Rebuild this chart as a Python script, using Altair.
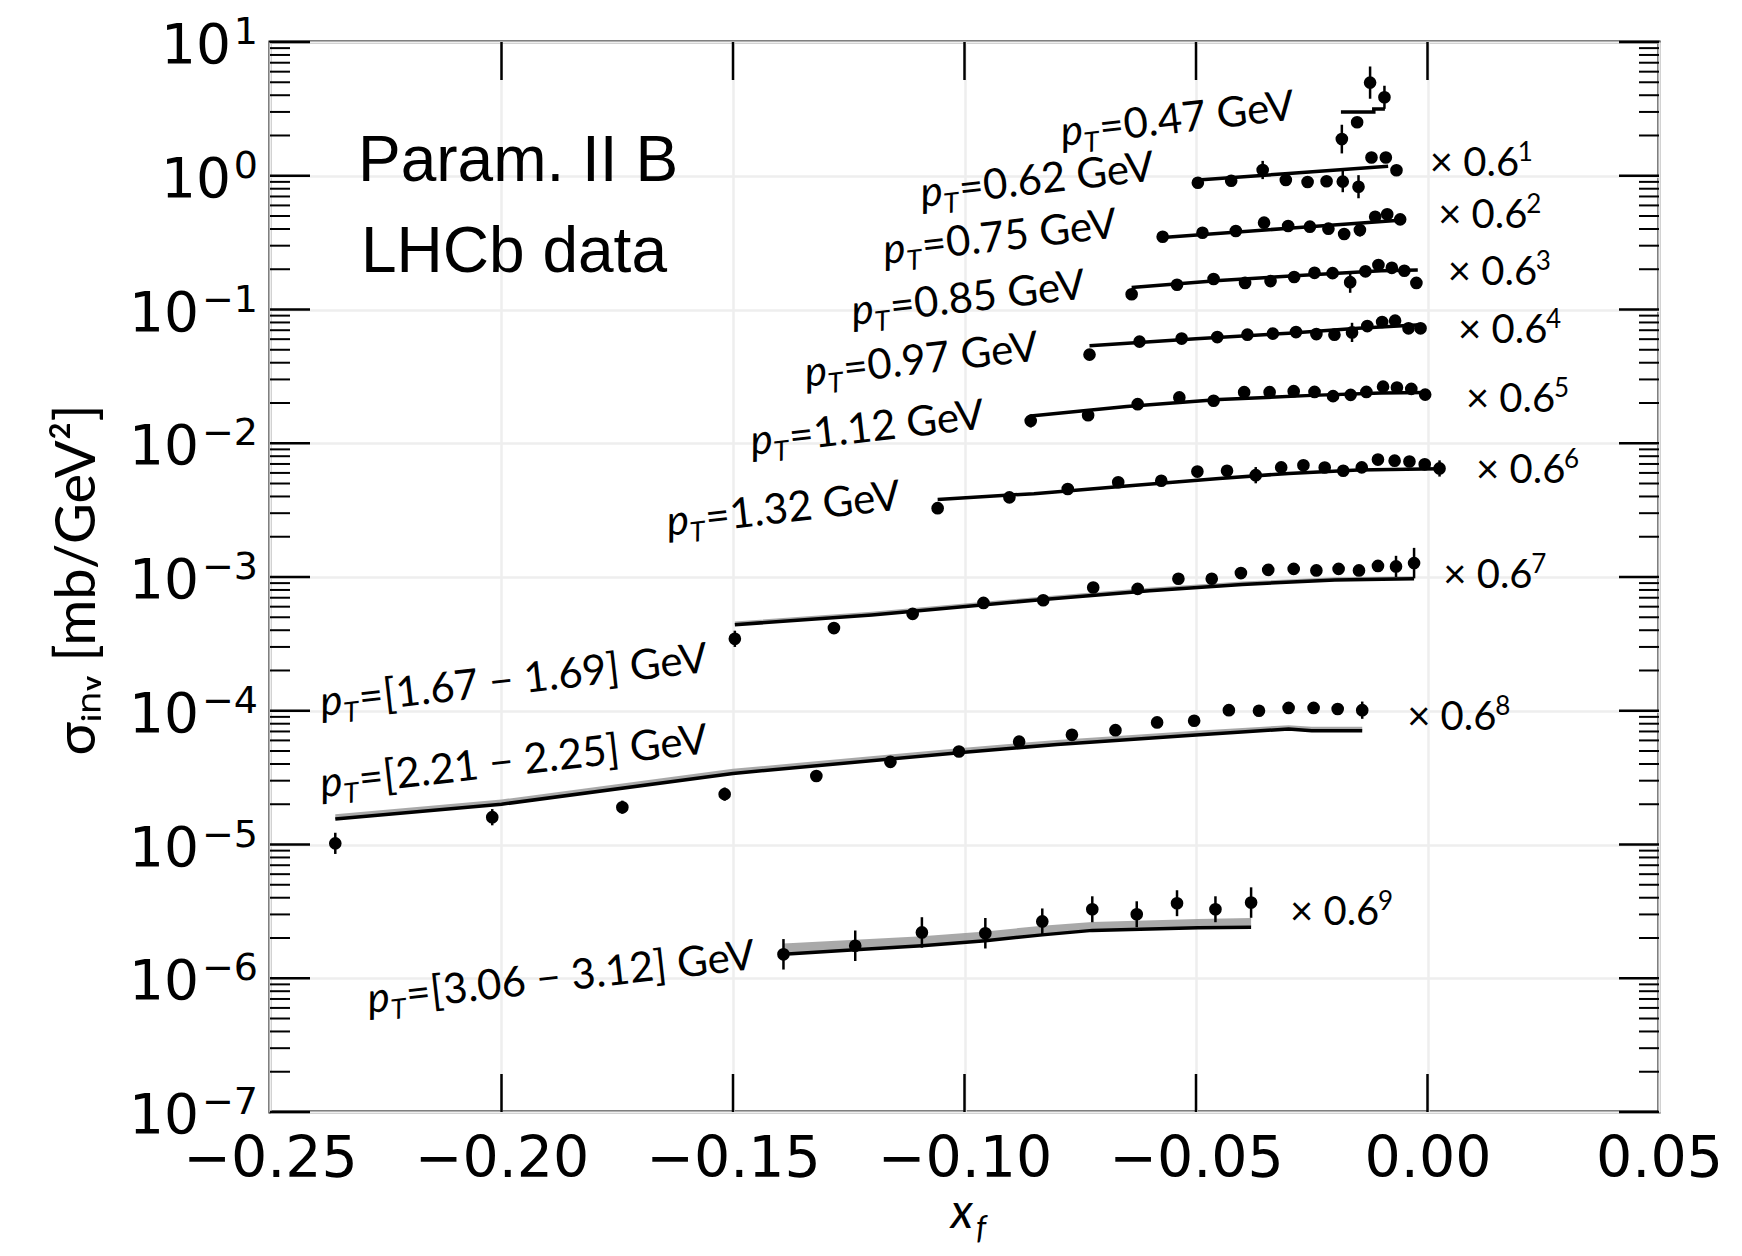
import altair as alt
import pandas as pd

# ---------------- data (plotted values, already scaled by 0.6^k) ----------------
series_names = ["0.47", "0.62", "0.75", "0.85", "0.97", "1.12", "1.32",
                "1.67-1.69", "2.21-2.25", "3.06-3.12"]

s1_x = [-0.0185, -0.0152, -0.0124, -0.0093]
s1_y = [1.88, 2.51, 4.97, 3.86]
s1_e = [0.28, 0.06, 0.32, 0.22]

s2_x = [-0.0496, -0.0424, -0.0356, -0.0306, -0.0259, -0.0218, -0.0183, -0.0149, -0.0121, -0.0090, -0.0067]
s2_y = [0.887, 0.918, 1.104, 0.929, 0.898, 0.909, 0.904, 0.828, 1.37, 1.37, 1.10]
s2_e = [0.04, 0.04, 0.17, 0.04, 0.04, 0.04, 0.20, 0.22, 0.08, 0.06, 0.04]

s3_x = [-0.0572, -0.0486, -0.0414, -0.0353, -0.0301, -0.0254, -0.0214, -0.0180, -0.0146, -0.0113, -0.0087, -0.0059]
s3_y = [0.350, 0.375, 0.386, 0.446, 0.421, 0.416, 0.402, 0.367, 0.393, 0.494, 0.515, 0.472]
s3_e = [0.04, 0.04, 0.04, 0.06, 0.04, 0.04, 0.04, 0.10, 0.12, 0.04, 0.04, 0.04]

s4_x = [-0.0639, -0.0541, -0.0462, -0.0394, -0.0339, -0.0288, -0.0244, -0.0205, -0.0167, -0.0134, -0.0106, -0.0077, -0.0050, -0.0024]
s4_y = [0.130, 0.153, 0.169, 0.158, 0.163, 0.175, 0.188, 0.187, 0.160, 0.193, 0.215, 0.205, 0.195, 0.158]
s4_e = [0.06, 0.04, 0.04, 0.04, 0.04, 0.04, 0.04, 0.04, 0.20, 0.04, 0.04, 0.04, 0.04, 0.04]

s5_x = [-0.0730, -0.0622, -0.0531, -0.0454, -0.0389, -0.0334, -0.0284, -0.0240, -0.0201, -0.0163, -0.0130, -0.0098, -0.0070, -0.0041, -0.0015]
s5_y = [0.0460, 0.0575, 0.0606, 0.0622, 0.0648, 0.0660, 0.0678, 0.0655, 0.0648, 0.0674, 0.0752, 0.0806, 0.0825, 0.0723, 0.0723]
s5_e = [0.10, 0.04, 0.04, 0.04, 0.04, 0.04, 0.04, 0.06, 0.06, 0.18, 0.04, 0.04, 0.04, 0.04, 0.04]

s6_x = [-0.0857, -0.0733, -0.0626, -0.0536, -0.0462, -0.0396, -0.0341, -0.0289, -0.0244, -0.0204, -0.0166, -0.0132, -0.0096, -0.0066, -0.0035, -0.0005]
s6_y = [0.0147, 0.0162, 0.0196, 0.0220, 0.0208, 0.0241, 0.0241, 0.0245, 0.0242, 0.0225, 0.0230, 0.0242, 0.0265, 0.0261, 0.0255, 0.0231]
s6_e = [0.12, 0.06, 0.04, 0.06, 0.04, 0.04, 0.04, 0.04, 0.04, 0.04, 0.04, 0.04, 0.04, 0.04, 0.04, 0.04]

s7_x = [-0.1058, -0.0903, -0.0777, -0.0668, -0.0575, -0.0497, -0.0433, -0.0371, -0.0316, -0.0268, -0.0222, -0.0182, -0.0142, -0.0107, -0.0071, -0.0039, -0.0006, 0.0026]
s7_y = [0.00327, 0.00394, 0.00455, 0.00511, 0.00524, 0.00614, 0.00623, 0.00577, 0.00660, 0.00685, 0.00659, 0.00623, 0.00660, 0.00755, 0.00741, 0.00730, 0.00696, 0.00648]
s7_e = [0.08, 0.04, 0.04, 0.04, 0.04, 0.04, 0.04, 0.15, 0.04, 0.04, 0.04, 0.04, 0.04, 0.04, 0.04, 0.04, 0.06, 0.15]

s8_x = [-0.1496, -0.1282, -0.1112, -0.0959, -0.0830, -0.0722, -0.0626, -0.0538, -0.0466, -0.0403, -0.0344, -0.0289, -0.0240, -0.0192, -0.0148, -0.0107, -0.0068, -0.0029]
s8_y = [0.000345, 0.000415, 0.000530, 0.000640, 0.000670, 0.000835, 0.000815, 0.00097, 0.00097, 0.00107, 0.00113, 0.00115, 0.00112, 0.00115, 0.00112, 0.00121, 0.00120, 0.00127]
s8_e = [0.15, 0.05, 0.05, 0.05, 0.05, 0.05, 0.05, 0.05, 0.05, 0.05, 0.05, 0.05, 0.05, 0.05, 0.05, 0.10, 0.20, 0.30]

s9_x = [-0.2359, -0.2020, -0.1739, -0.1518, -0.1320, -0.1160, -0.1012, -0.0882, -0.0768, -0.0674, -0.0584, -0.0504, -0.0429, -0.0364, -0.0300, -0.0246, -0.0194, -0.0141]
s9_y = [1.02e-5, 1.60e-5, 1.90e-5, 2.38e-5, 3.25e-5, 4.15e-5, 4.96e-5, 5.87e-5, 6.61e-5, 7.16e-5, 8.18e-5, 8.42e-5, 1.01e-4, 1.00e-4, 1.05e-4, 1.05e-4, 1.03e-4, 1.01e-4]
s9_e = [0.20, 0.15, 0.12, 0.12, 0.10, 0.06, 0.08, 0.06, 0.05, 0.05, 0.05, 0.05, 0.05, 0.05, 0.05, 0.05, 0.05, 0.16]

s10_x = [-0.1391, -0.1236, -0.1092, -0.0955, -0.0832, -0.0724, -0.0628, -0.0541, -0.0458, -0.0381]
s10_y = [1.51e-6, 1.75e-6, 2.20e-6, 2.17e-6, 2.66e-6, 3.28e-6, 3.01e-6, 3.64e-6, 3.28e-6, 3.68e-6]
s10_e = [0.30, 0.30, 0.30, 0.30, 0.25, 0.25, 0.25, 0.25, 0.25, 0.30]

# theory curves
t1_x = [-0.0187, -0.0116, -0.0116, -0.0092]
t1_y = [3.00, 3.00, 3.15, 3.15]
t2_x = [-0.0496, -0.0300, -0.0085]
t2_y = [0.93, 1.04, 1.18]
t3_x = [-0.0572, -0.0300, -0.0053]
t3_y = [0.345, 0.405, 0.466]
t4_x = [-0.0639, -0.0450, -0.0250, -0.0100, -0.0021]
t4_y = [0.146, 0.165, 0.182, 0.195, 0.197]
t5_x = [-0.0730, -0.0500, -0.0300, -0.0150, -0.0015]
t5_y = [0.0536, 0.0605, 0.0665, 0.0725, 0.0770]
t6_x = [-0.0857, -0.0650, -0.0450, -0.0250, -0.0100, -0.0005]
t6_y = [0.0160, 0.0188, 0.0212, 0.0228, 0.0238, 0.0240]
t7_x = [-0.1058, -0.0850, -0.0650, -0.0450, -0.0300, -0.0150, 0.0025]
t7_y = [0.00380, 0.00420, 0.00480, 0.00545, 0.00595, 0.00630, 0.00645]
t8_x = [-0.1496, -0.1200, -0.0830, -0.0600, -0.0400, -0.0200, -0.0029]
t8_y = [0.000440, 0.000520, 0.000680, 0.000790, 0.000880, 0.000950, 0.000970]
t8_hi = [0.000465, 0.000550, 0.000715, 0.000830, 0.000925, 0.000995, 0.001015]
t9_x = [-0.2359, -0.2000, -0.1500, -0.1000, -0.0800, -0.0500, -0.0300, -0.0250, -0.0141]
t9_y = [1.55e-5, 2.00e-5, 3.40e-5, 4.90e-5, 5.60e-5, 6.60e-5, 7.30e-5, 7.10e-5, 7.10e-5]
t9_hi = [1.68e-5, 2.17e-5, 3.68e-5, 5.30e-5, 6.05e-5, 7.10e-5, 7.80e-5, 7.60e-5, 7.60e-5]
t10_x = [-0.1391, -0.1236, -0.1092, -0.0955, -0.0832, -0.0724, -0.0496, -0.0381]
t10_y = [1.51e-6, 1.63e-6, 1.75e-6, 1.91e-6, 2.11e-6, 2.28e-6, 2.39e-6, 2.41e-6]
t10_hi = [1.82e-6, 1.94e-6, 2.06e-6, 2.24e-6, 2.47e-6, 2.63e-6, 2.77e-6, 2.82e-6]

# scale factor labels ("× 0.6^k")
scale_exps = [1, 2, 3, 4, 5, 6, 7, 8, 9]
scale_lab_x = [0.0005, 0.0023, 0.0044, 0.0066, 0.0083, 0.0105, 0.0034, -0.0044, -0.0297]
scale_lab_y = [0.995, 0.406, 0.152, 0.0562, 0.0172, 0.00505, 0.000828, 7.18e-5, 2.50e-6]

# pT labels
pt_texts = ["=0.47 GeV", "=0.62 GeV", "=0.75 GeV", "=0.85 GeV", "=0.97 GeV", "=1.12 GeV",
            "=1.32 GeV", "=[1.67 \u2212 1.69] GeV", "=[2.21 \u2212 2.25] GeV", "=[3.06 \u2212 3.12] GeV"]
pt_lab_x = [-0.0789, -0.1092, -0.1172, -0.1241, -0.1342, -0.1459, -0.1640, -0.2388, -0.2388, -0.2286]
pt_lab_y = [1.67, 0.584, 0.219, 0.0766, 0.0264, 0.00817, 0.00203, 9.14e-5, 2.26e-5, 5.5e-7]

X_DOMAIN = [-0.25, 0.05]
X_TICKS = [-0.25, -0.20, -0.15, -0.10, -0.05, 0.00, 0.05]
Y_EXPS = [-7, -6, -5, -4, -3, -2, -1, 0, 1]

# ---------------- build tables ----------------
pts_x = [s1_x, s2_x, s3_x, s4_x, s5_x, s6_x, s7_x, s8_x, s9_x, s10_x]
pts_y = [s1_y, s2_y, s3_y, s4_y, s5_y, s6_y, s7_y, s8_y, s9_y, s10_y]
pts_e = [s1_e, s2_e, s3_e, s4_e, s5_e, s6_e, s7_e, s8_e, s9_e, s10_e]
rows = []
for n, xs_, ys_, es_ in zip(series_names, pts_x, pts_y, pts_e):
    for x, y, e in zip(xs_, ys_, es_):
        rows.append({"s": n, "x": x, "y": y, "lo": y / (1 + e), "hi": y * (1 + e)})
pts = pd.DataFrame(rows)

th_x = [t1_x, t2_x, t3_x, t4_x, t5_x, t6_x, t7_x, t8_x, t9_x, t10_x]
th_y = [t1_y, t2_y, t3_y, t4_y, t5_y, t6_y, t7_y, t8_y, t9_y, t10_y]
rows = []
for n, xs_, ys_ in zip(series_names, th_x, th_y):
    for i, (x, y) in enumerate(zip(xs_, ys_)):
        rows.append({"s": n, "i": i, "x": x, "y": y})
th = pd.DataFrame(rows)

rows = []
for n, xs_, lo_, hi_ in [("1.67-1.69", t8_x, t8_y, t8_hi), ("2.21-2.25", t9_x, t9_y, t9_hi),
                         ("3.06-3.12", t10_x, t10_y, t10_hi)]:
    for x, lo, hi in zip(xs_, lo_, hi_):
        rows.append({"s": n, "x": x, "lo": lo, "hi": hi})
band = pd.DataFrame(rows)

scl = pd.DataFrame({"x": scale_lab_x, "y": scale_lab_y, "k": [str(k) for k in scale_exps]})
ptl = pd.DataFrame({"x": pt_lab_x, "y": pt_lab_y, "t": pt_texts})

W, H = 1389, 1070
xs = alt.Scale(domain=X_DOMAIN, nice=False, zero=False)
ys = alt.Scale(type="log", domain=[10.0 ** Y_EXPS[0], 10.0 ** Y_EXPS[-1]], nice=False)

x_axis = alt.Axis(values=X_TICKS, format=".2f", labelFont="DejaVu Sans", labelFontSize=57,
                  labelColor="black", labelPadding=19, ticks=False, tickSize=0, domain=False,
                  grid=True, gridColor="#eeeeee", gridWidth=2.5, title=None,
                  labelFlush=False, labelOverlap=False, labelBound=False)
y_axis = alt.Axis(values=[10.0 ** e for e in Y_EXPS], labels=False, ticks=False, tickSize=0,
                  domain=False, grid=True, gridColor="#eeeeee", gridWidth=2.5, title=None)

bands = alt.Chart(band).mark_area(color="#9a9a9a", opacity=0.85).encode(
    x=alt.X("x:Q", scale=xs, axis=x_axis),
    y=alt.Y("lo:Q", scale=ys, axis=y_axis),
    y2="hi:Q",
    detail="s:N",
)

lines = alt.Chart(th).mark_line(color="black", strokeWidth=3.5).encode(
    x=alt.X("x:Q", scale=xs),
    y=alt.Y("y:Q", scale=ys),
    detail="s:N",
    order="i:Q",
)

errs = alt.Chart(pts).mark_rule(color="black", strokeWidth=2.5).encode(
    x=alt.X("x:Q", scale=xs),
    y=alt.Y("lo:Q", scale=ys),
    y2="hi:Q",
)

dots = alt.Chart(pts).mark_point(filled=True, shape="circle", size=160, color="black", opacity=1).encode(
    x=alt.X("x:Q", scale=xs),
    y=alt.Y("y:Q", scale=ys),
)

# inward ticks
ymaj = pd.DataFrame({"v": [10.0 ** e for e in Y_EXPS]})
ymin = pd.DataFrame({"v": [m * 10.0 ** e for e in Y_EXPS[:-1] for m in range(2, 10)]})
xmaj = pd.DataFrame({"v": X_TICKS[1:-1]})


def yrule(df, x0, x1, w):
    return alt.Chart(df).mark_rule(color="black", strokeWidth=w).encode(
        y=alt.Y("v:Q", scale=ys), x=alt.value(x0), x2=alt.value(x1))


def xrule(df, y0, y1, w):
    return alt.Chart(df).mark_rule(color="black", strokeWidth=w).encode(
        x=alt.X("v:Q", scale=xs), y=alt.value(y0), y2=alt.value(y1))


ticks = [yrule(ymaj, 0, 40, 2.5), yrule(ymin, 0, 20, 2), yrule(ymaj, W - 40, W, 2.5),
         yrule(ymin, W - 20, W, 2), xrule(xmaj, H - 38, H, 2.5), xrule(xmaj, 0, 38, 2.5)]

# y tick labels: "10" with a raised exponent
ylab = pd.DataFrame({"v": [10.0 ** e for e in Y_EXPS],
                     "ex": [str(e).replace("-", "\u2212") for e in Y_EXPS],
                     "neg": [e < 0 for e in Y_EXPS]})
ylab_exp = alt.Chart(ylab).mark_text(align="right", baseline="alphabetic", font="DejaVu Sans",
                                     fontSize=38, color="black", dy=2).encode(
    x=alt.value(-12), y=alt.Y("v:Q", scale=ys), text="ex:N")
ylab_base_pos = alt.Chart(ylab).transform_filter("!datum.neg").mark_text(
    align="right", baseline="alphabetic", font="DejaVu Sans", fontSize=55, color="black",
    text="10", dy=21).encode(x=alt.value(-39), y=alt.Y("v:Q", scale=ys))
ylab_base_neg = alt.Chart(ylab).transform_filter("datum.neg").mark_text(
    align="right", baseline="alphabetic", font="DejaVu Sans", fontSize=55, color="black",
    text="10", dy=21).encode(x=alt.value(-71), y=alt.Y("v:Q", scale=ys))

# "× 0.6^k" labels
scale_txt = alt.Chart(scl).mark_text(align="left", baseline="alphabetic", font="Lato",
                                     fontSize=40, color="black", text="\u00d7 0.6").encode(
    x=alt.X("x:Q", scale=xs), y=alt.Y("y:Q", scale=ys))
scale_sup = alt.Chart(scl).mark_text(align="left", baseline="alphabetic", font="Lato",
                                     fontSize=26, color="black", dx=88, dy=-15).encode(
    x=alt.X("x:Q", scale=xs), y=alt.Y("y:Q", scale=ys), text="k:N")

# rotated pT labels
ANG = 353.5
pt_p = alt.Chart(ptl).mark_text(align="left", baseline="alphabetic", font="Lato", fontStyle="italic",
                                fontSize=42, angle=ANG, color="black", text="p").encode(
    x=alt.X("x:Q", scale=xs), y=alt.Y("y:Q", scale=ys))
pt_T = alt.Chart(ptl).mark_text(align="left", baseline="alphabetic", font="Lato", fontStyle="italic",
                                fontSize=28, angle=ANG, color="black", text="T", dx=22, dy=9).encode(
    x=alt.X("x:Q", scale=xs), y=alt.Y("y:Q", scale=ys))
pt_rest = alt.Chart(ptl).mark_text(align="left", baseline="alphabetic", font="Lato",
                                   fontSize=42, angle=ANG, color="black", dx=39).encode(
    x=alt.X("x:Q", scale=xs), y=alt.Y("y:Q", scale=ys), text="t:N")

# header texts and axis titles
hdr = pd.DataFrame({"t": ["Param. II B", "LHCb data"], "px": [88, 91], "py": [139, 230]})
header = alt.Chart(hdr).mark_text(align="left", baseline="alphabetic", font="Liberation Sans",
                                  fontSize=64, color="black").encode(
    x=alt.X("px:Q", scale=None), y=alt.Y("py:Q", scale=None), text="t:N")

ytitle = alt.Chart(pd.DataFrame({"t": ["\u03c3\u1d62\u2099\u1d65  [mb/GeV\u00b2]"]})).mark_text(
    align="center", baseline="middle", angle=270, font="Lato", fontSize=56, color="black").encode(
    x=alt.value(-192), y=alt.value(538), text="t:N")

xt1 = alt.Chart(pd.DataFrame({"t": ["x"]})).mark_text(
    align="center", baseline="alphabetic", font="Lato", fontStyle="italic", fontSize=48,
    color="black").encode(x=alt.value(692), y=alt.value(1186), text="t:N")
xt2 = alt.Chart(pd.DataFrame({"t": ["f"]})).mark_text(
    align="center", baseline="alphabetic", font="Lato", fontStyle="italic", fontSize=32,
    color="black").encode(x=alt.value(711), y=alt.value(1197), text="t:N")

chart = alt.layer(bands, lines, errs, dots, *ticks, ylab_exp, ylab_base_pos, ylab_base_neg,
                  scale_txt, scale_sup, pt_p, pt_T, pt_rest,
                  header, ytitle, xt1, xt2).properties(
    width=W, height=H,
    padding={"left": 262, "top": 34, "right": 75, "bottom": 136},
    autosize=alt.AutoSizeParams(type="none"),
    background="white",
).configure_view(stroke="black", strokeWidth=3)

chart.save("out.html", embed_options={"renderer": "svg", "actions": False})
